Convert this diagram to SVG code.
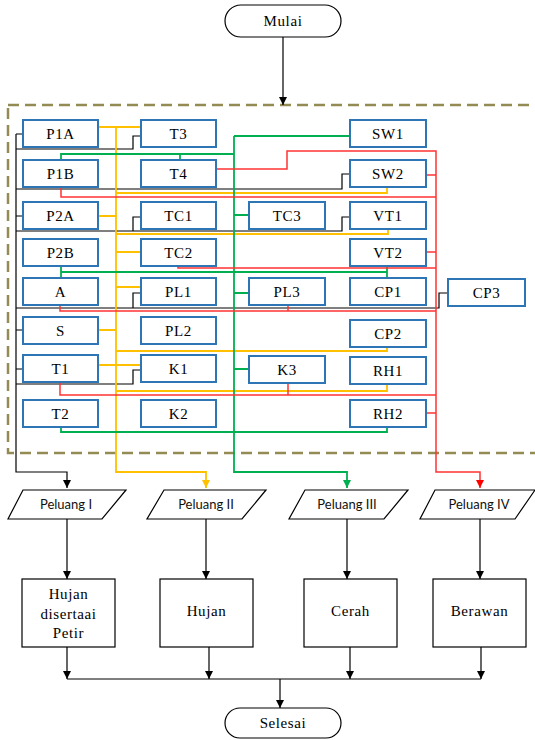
<svg xmlns="http://www.w3.org/2000/svg" width="535" height="740" viewBox="0 0 535 740">
<style>
.nb{fill:#fff;stroke:#2e75b6;stroke-width:2}
.pb{fill:#fff;stroke:#000;stroke-width:1.2}
.t{font-family:"Liberation Serif","Times New Roman",serif;font-size:15px;letter-spacing:0.6px;fill:#000;text-anchor:middle}
.ts{font-family:Lato,"Liberation Sans",sans-serif;font-size:13px;fill:#111;text-anchor:middle}
.k{fill:none;stroke:#000;stroke-width:1.2}
.y{fill:none;stroke:#ffc000;stroke-width:1.8}
.g{fill:none;stroke:#00b050;stroke-width:1.8}
.r{fill:none;stroke:#ff3333;stroke-width:1.5}
</style>
<defs>
<marker id="ak" markerUnits="userSpaceOnUse" markerWidth="8" markerHeight="8" refX="8" refY="4" orient="auto"><path d="M0,0L8,4L0,8z" fill="#000"/></marker>
<marker id="ay" markerUnits="userSpaceOnUse" markerWidth="8" markerHeight="8" refX="8" refY="4" orient="auto"><path d="M0,0L8,4L0,8z" fill="#ffc000"/></marker>
<marker id="ag" markerUnits="userSpaceOnUse" markerWidth="8" markerHeight="8" refX="8" refY="4" orient="auto"><path d="M0,0L8,4L0,8z" fill="#00b050"/></marker>
<marker id="ar" markerUnits="userSpaceOnUse" markerWidth="8" markerHeight="8" refX="8" refY="4" orient="auto"><path d="M0,0L8,4L0,8z" fill="#ff0000"/></marker>
</defs>
<rect x="8" y="105" width="560" height="348" fill="none" stroke="#948a54" stroke-width="2.5" stroke-dasharray="11,6"/>
<g id="connectors">
<path class="k" d="M283,37V105" marker-end="url(#ak)"/>
<path class="k" d="M16,134V472H67V488" marker-end="url(#ak)"/>
<path class="k" d="M16,134H23M16,149H133V136H141M16,189H342V174H350M16,216H23M16,231H342V217H350M133,231V217H141M16,308H439V293H448M133,308V293H141M16,330H23M16,369H23M16,384H133V370H141"/>
<path class="y" d="M116,127V472H206V488" marker-end="url(#ay)"/>
<path class="y" d="M98,127H141M116,193H387V187M98,216H116M116,234H388V229M116,252H141M116,287H141M98,330H116M116,351H387V347M98,365H141M116,391H387V384"/>
<path class="g" d="M234,136V472H347V488" marker-end="url(#ag)"/>
<path class="g" d="M234,136H350M61,160V154H234M180,154V160M234,215H249M61,266V278M61,272H387M387,266V278M234,293H249M234,369H249M61,426V432H387V426"/>
<path class="r" d="M216,169H287V151H436V472H480V488" marker-end="url(#ar)"/>
<path class="r" d="M426,175H436M61,187V197H436M426,252H436M178,266V268H436M60,305V311H436M288,306V311M60,382V395H436M288,382V395M426,413H436"/>
<path class="k" d="M67,519V579" marker-end="url(#ak)"/>
<path class="k" d="M206,519V579" marker-end="url(#ak)"/>
<path class="k" d="M347,519V579" marker-end="url(#ak)"/>
<path class="k" d="M480,519V579" marker-end="url(#ak)"/>
<path class="k" d="M67,647V679" marker-end="url(#ak)"/>
<path class="k" d="M209,647V679" marker-end="url(#ak)"/>
<path class="k" d="M350,647V679" marker-end="url(#ak)"/>
<path class="k" d="M481,647V679" marker-end="url(#ak)"/>
<path class="k" d="M67,679H481"/>
<path class="k" d="M280,679V708" marker-end="url(#ak)"/>
</g>
<g id="mulai"><rect x="225" y="5" width="116" height="32" rx="16" class="pb"/><text class="t" x="283" y="26">Mulai</text></g>
<g id="P1A"><rect class="nb" x="23" y="120" width="75" height="27"/><text class="t" x="60.5" y="138.5">P1A</text></g>
<g id="P1B"><rect class="nb" x="23" y="160" width="75" height="27"/><text class="t" x="60.5" y="178.5">P1B</text></g>
<g id="P2A"><rect class="nb" x="23" y="202" width="75" height="27"/><text class="t" x="60.5" y="220.5">P2A</text></g>
<g id="P2B"><rect class="nb" x="23" y="239" width="75" height="27"/><text class="t" x="60.5" y="257.5">P2B</text></g>
<g id="A"><rect class="nb" x="23" y="278" width="75" height="27"/><text class="t" x="60.5" y="296.5">A</text></g>
<g id="S"><rect class="nb" x="23" y="317" width="75" height="27"/><text class="t" x="60.5" y="335.5">S</text></g>
<g id="T1"><rect class="nb" x="23" y="355" width="75" height="27"/><text class="t" x="60.5" y="373.5">T1</text></g>
<g id="T2"><rect class="nb" x="23" y="400" width="75" height="27"/><text class="t" x="60.5" y="418.5">T2</text></g>
<g id="T3"><rect class="nb" x="141" y="120" width="75" height="27"/><text class="t" x="178.5" y="138.5">T3</text></g>
<g id="T4"><rect class="nb" x="141" y="160" width="75" height="27"/><text class="t" x="178.5" y="178.5">T4</text></g>
<g id="TC1"><rect class="nb" x="141" y="202" width="75" height="27"/><text class="t" x="178.5" y="220.5">TC1</text></g>
<g id="TC2"><rect class="nb" x="141" y="239" width="75" height="27"/><text class="t" x="178.5" y="257.5">TC2</text></g>
<g id="PL1"><rect class="nb" x="141" y="278" width="75" height="27"/><text class="t" x="178.5" y="296.5">PL1</text></g>
<g id="PL2"><rect class="nb" x="141" y="317" width="75" height="27"/><text class="t" x="178.5" y="335.5">PL2</text></g>
<g id="K1"><rect class="nb" x="141" y="355" width="75" height="27"/><text class="t" x="178.5" y="373.5">K1</text></g>
<g id="K2"><rect class="nb" x="141" y="400" width="75" height="27"/><text class="t" x="178.5" y="418.5">K2</text></g>
<g id="TC3"><rect class="nb" x="249" y="202" width="76" height="27"/><text class="t" x="287" y="220.5">TC3</text></g>
<g id="PL3"><rect class="nb" x="249" y="278" width="76" height="27"/><text class="t" x="287" y="296.5">PL3</text></g>
<g id="K3"><rect class="nb" x="249" y="356" width="76" height="27"/><text class="t" x="287" y="374.5">K3</text></g>
<g id="SW1"><rect class="nb" x="350" y="120" width="76" height="27"/><text class="t" x="388" y="138.5">SW1</text></g>
<g id="SW2"><rect class="nb" x="350" y="160" width="76" height="27"/><text class="t" x="388" y="178.5">SW2</text></g>
<g id="VT1"><rect class="nb" x="350" y="202" width="76" height="27"/><text class="t" x="388" y="220.5">VT1</text></g>
<g id="VT2"><rect class="nb" x="350" y="239" width="76" height="27"/><text class="t" x="388" y="257.5">VT2</text></g>
<g id="CP1"><rect class="nb" x="350" y="278" width="76" height="27"/><text class="t" x="388" y="296.5">CP1</text></g>
<g id="CP2"><rect class="nb" x="350" y="320" width="76" height="27"/><text class="t" x="388" y="338.5">CP2</text></g>
<g id="RH1"><rect class="nb" x="350" y="357" width="76" height="27"/><text class="t" x="388" y="375.5">RH1</text></g>
<g id="RH2"><rect class="nb" x="350" y="400" width="76" height="27"/><text class="t" x="388" y="418.5">RH2</text></g>
<g id="CP3"><rect class="nb" x="448" y="279" width="77" height="27"/><text class="t" x="486.5" y="297.5">CP3</text></g>
<g id="peluang1"><path class="pb" d="M23,490H126L102,519H8z"/><text class="ts" x="66" y="509">Peluang I</text></g>
<g id="peluang2"><path class="pb" d="M164,490H266L242,519H147z"/><text class="ts" x="206" y="509">Peluang II</text></g>
<g id="peluang3"><path class="pb" d="M305,490H408L384,519H289z"/><text class="ts" x="347" y="509">Peluang III</text></g>
<g id="peluang4"><path class="pb" d="M435,490H535L515,519H420z"/><text class="ts" x="479" y="509">Peluang IV</text></g>
<g id="hujanpetir"><rect class="pb" x="22" y="579" width="93" height="68"/><text class="t" x="68.5" y="599">Hujan</text><text class="t" x="68.5" y="619">disertaai</text><text class="t" x="68.5" y="638">Petir</text></g>
<g id="hujan"><rect class="pb" x="160" y="579" width="93" height="68"/><text class="t" x="206.5" y="616">Hujan</text></g>
<g id="cerah"><rect class="pb" x="304" y="579" width="93" height="68"/><text class="t" x="350.5" y="616">Cerah</text></g>
<g id="berawan"><rect class="pb" x="433" y="579" width="93" height="68"/><text class="t" x="479.5" y="616">Berawan</text></g>
<g id="selesai"><rect x="225" y="708" width="116" height="30" rx="15" class="pb"/><text class="t" x="283" y="728">Selesai</text></g>
</svg>
